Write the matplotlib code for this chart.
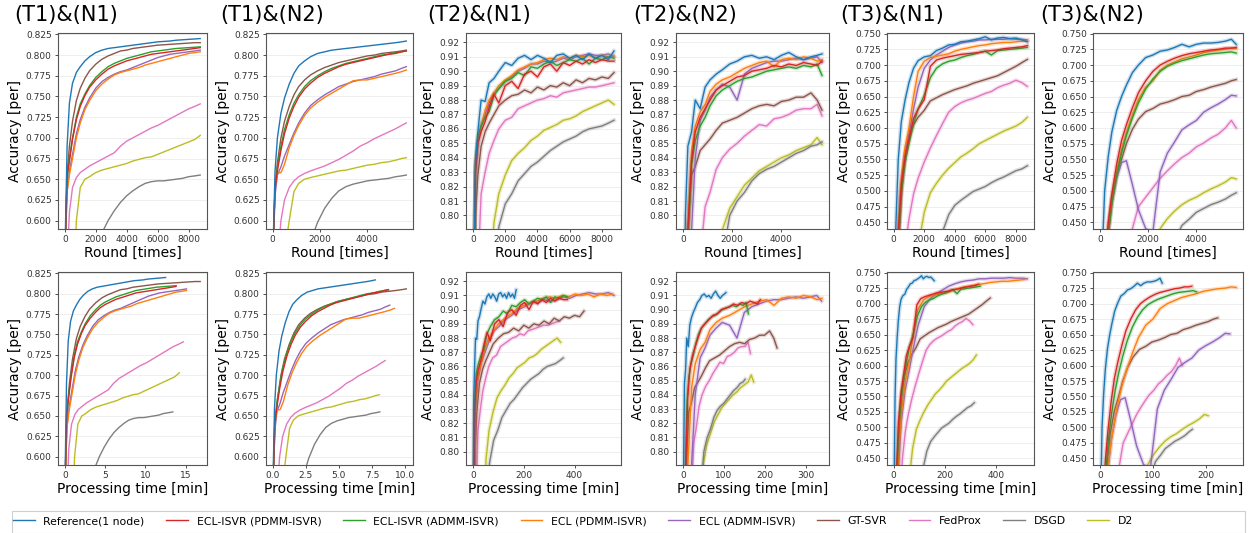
import numpy as np
import matplotlib
matplotlib.use('Agg')
import matplotlib.pyplot as plt
from matplotlib.ticker import MultipleLocator
from matplotlib.patches import Rectangle
from matplotlib.lines import Line2D

W, H = 1251, 533

methods = ['Reference(1 node)', 'ECL-ISVR (PDMM-ISVR)', 'ECL-ISVR (ADMM-ISVR)',
           'ECL (PDMM-ISVR)', 'ECL (ADMM-ISVR)', 'GT-SVR', 'FedProx', 'DSGD', 'D2']
colors = ['tab:blue', 'tab:red', 'tab:green', 'tab:orange', 'tab:purple',
          'tab:brown', 'tab:pink', 'tab:gray', 'tab:olive']

rounds_n1 = [0, 150, 300, 500, 750, 1000, 1300, 1600, 2000, 2400, 2800, 3200, 3600,
             4000, 4400, 4800, 5200, 5600, 6000, 6400, 6800, 7200, 7600, 8000, 8400, 8750]
rounds_n2 = [0, 100, 200, 350, 500, 700, 900, 1100, 1350, 1600, 1900, 2200, 2500,
             2800, 3100, 3400, 3700, 4000, 4300, 4600, 4900, 5200, 5450, 5650]

# accuracy per method (same order as methods)
acc_t1_n1 = [
    [0.55, 0.69, 0.742, 0.766, 0.779, 0.786, 0.793, 0.798, 0.803, 0.806, 0.808, 0.809, 0.810, 0.811, 0.812, 0.813, 0.814, 0.815, 0.816, 0.8165, 0.817, 0.818, 0.8185, 0.819, 0.8195, 0.820],
    [0.55, 0.655, 0.672, 0.698, 0.722, 0.738, 0.751, 0.761, 0.770, 0.777, 0.783, 0.787, 0.790, 0.793, 0.795, 0.797, 0.799, 0.801, 0.802, 0.803, 0.804, 0.805, 0.806, 0.807, 0.808, 0.809],
    [0.55, 0.65, 0.675, 0.70, 0.725, 0.741, 0.753, 0.763, 0.773, 0.780, 0.786, 0.790, 0.793, 0.796, 0.798, 0.800, 0.802, 0.804, 0.805, 0.806, 0.807, 0.808, 0.8085, 0.809, 0.8095, 0.810],
    [0.55, 0.635, 0.655, 0.675, 0.70, 0.718, 0.734, 0.745, 0.757, 0.765, 0.771, 0.776, 0.779, 0.781, 0.783, 0.785, 0.788, 0.790, 0.792, 0.794, 0.796, 0.798, 0.800, 0.802, 0.803, 0.804],
    [0.55, 0.635, 0.66, 0.68, 0.705, 0.722, 0.737, 0.748, 0.760, 0.768, 0.773, 0.777, 0.780, 0.782, 0.785, 0.788, 0.791, 0.794, 0.797, 0.799, 0.801, 0.802, 0.803, 0.804, 0.805, 0.806],
    [0.55, 0.655, 0.69, 0.72, 0.745, 0.760, 0.772, 0.781, 0.789, 0.795, 0.799, 0.802, 0.805, 0.806, 0.808, 0.809, 0.810, 0.811, 0.812, 0.8125, 0.813, 0.8135, 0.814, 0.8145, 0.815, 0.815],
    [0.45, 0.55, 0.61, 0.640, 0.652, 0.658, 0.662, 0.666, 0.670, 0.674, 0.678, 0.682, 0.690, 0.696, 0.700, 0.704, 0.708, 0.712, 0.715, 0.719, 0.723, 0.727, 0.731, 0.735, 0.738, 0.741],
    [0.30, 0.32, 0.34, 0.37, 0.40, 0.43, 0.46, 0.50, 0.53, 0.585, 0.600, 0.612, 0.622, 0.630, 0.636, 0.641, 0.645, 0.647, 0.648, 0.648, 0.649, 0.650, 0.651, 0.653, 0.654, 0.655],
    [0.40, 0.42, 0.45, 0.50, 0.60, 0.640, 0.650, 0.653, 0.658, 0.661, 0.663, 0.665, 0.667, 0.669, 0.672, 0.674, 0.676, 0.677, 0.680, 0.683, 0.686, 0.689, 0.692, 0.695, 0.698, 0.703],
]
acc_t1_n2 = [
    [0.55, 0.66, 0.70, 0.73, 0.748, 0.765, 0.778, 0.787, 0.793, 0.798, 0.802, 0.804, 0.806, 0.807, 0.808, 0.809, 0.810, 0.811, 0.812, 0.813, 0.814, 0.815, 0.816, 0.817],
    [0.55, 0.64, 0.66, 0.685, 0.705, 0.724, 0.738, 0.749, 0.759, 0.766, 0.773, 0.778, 0.782, 0.786, 0.789, 0.791, 0.793, 0.795, 0.797, 0.799, 0.801, 0.802, 0.804, 0.805],
    [0.55, 0.64, 0.665, 0.69, 0.71, 0.728, 0.742, 0.752, 0.762, 0.769, 0.775, 0.780, 0.784, 0.787, 0.790, 0.792, 0.794, 0.796, 0.798, 0.800, 0.801, 0.803, 0.804, 0.805],
    [0.55, 0.64, 0.657, 0.658, 0.668, 0.688, 0.703, 0.715, 0.727, 0.736, 0.743, 0.749, 0.754, 0.759, 0.764, 0.769, 0.770, 0.770, 0.772, 0.774, 0.776, 0.778, 0.780, 0.782],
    [0.55, 0.63, 0.655, 0.665, 0.678, 0.692, 0.706, 0.718, 0.730, 0.739, 0.746, 0.752, 0.757, 0.762, 0.765, 0.768, 0.770, 0.772, 0.774, 0.777, 0.779, 0.781, 0.784, 0.786],
    [0.55, 0.64, 0.67, 0.70, 0.72, 0.738, 0.752, 0.762, 0.770, 0.776, 0.781, 0.785, 0.788, 0.791, 0.793, 0.795, 0.797, 0.799, 0.800, 0.802, 0.803, 0.804, 0.805, 0.806],
    [0.45, 0.50, 0.55, 0.60, 0.625, 0.640, 0.648, 0.653, 0.657, 0.660, 0.663, 0.666, 0.670, 0.674, 0.679, 0.684, 0.690, 0.694, 0.699, 0.703, 0.707, 0.711, 0.715, 0.718],
    [0.30, 0.32, 0.34, 0.37, 0.40, 0.44, 0.48, 0.51, 0.55, 0.575, 0.598, 0.615, 0.627, 0.636, 0.641, 0.644, 0.646, 0.648, 0.649, 0.650, 0.651, 0.653, 0.654, 0.655],
    [0.40, 0.45, 0.48, 0.52, 0.56, 0.60, 0.635, 0.645, 0.650, 0.652, 0.654, 0.656, 0.658, 0.660, 0.661, 0.663, 0.665, 0.667, 0.668, 0.670, 0.671, 0.673, 0.675, 0.676],
]
acc_t2_n1 = [
    [0.70, 0.838, 0.858, 0.880, 0.879, 0.892, 0.895, 0.900, 0.906, 0.904, 0.909, 0.911, 0.908, 0.911, 0.909, 0.906, 0.911, 0.912, 0.909, 0.911, 0.908, 0.912, 0.909, 0.911, 0.908, 0.914],
    [0.70, 0.83, 0.850, 0.858, 0.865, 0.875, 0.884, 0.878, 0.890, 0.893, 0.888, 0.898, 0.900, 0.896, 0.903, 0.905, 0.900, 0.906, 0.904, 0.907, 0.905, 0.908, 0.906, 0.908, 0.907, 0.907],
    [0.70, 0.835, 0.855, 0.862, 0.868, 0.872, 0.883, 0.888, 0.893, 0.895, 0.899, 0.897, 0.903, 0.902, 0.905, 0.907, 0.904, 0.906, 0.908, 0.907, 0.909, 0.905, 0.909, 0.908, 0.910, 0.909],
    [0.70, 0.835, 0.852, 0.862, 0.873, 0.880, 0.885, 0.890, 0.894, 0.897, 0.901, 0.903, 0.905, 0.906, 0.908, 0.909, 0.908, 0.910, 0.909, 0.911, 0.910, 0.911, 0.909, 0.911, 0.910, 0.911],
    [0.70, 0.83, 0.85, 0.862, 0.870, 0.878, 0.885, 0.888, 0.893, 0.896, 0.900, 0.902, 0.905, 0.905, 0.907, 0.906, 0.907, 0.909, 0.908, 0.910, 0.911, 0.912, 0.911, 0.911, 0.912, 0.910],
    [0.70, 0.80, 0.828, 0.848, 0.858, 0.864, 0.870, 0.876, 0.880, 0.883, 0.884, 0.887, 0.885, 0.889, 0.887, 0.890, 0.889, 0.892, 0.890, 0.894, 0.892, 0.895, 0.894, 0.896, 0.895, 0.899],
    [0.60, 0.70, 0.76, 0.815, 0.830, 0.843, 0.852, 0.860, 0.866, 0.868, 0.874, 0.876, 0.878, 0.880, 0.881, 0.883, 0.882, 0.885, 0.886, 0.887, 0.888, 0.889, 0.889, 0.890, 0.891, 0.892],
    [0.45, 0.50, 0.55, 0.60, 0.65, 0.70, 0.75, 0.792, 0.808, 0.815, 0.824, 0.829, 0.834, 0.837, 0.841, 0.845, 0.848, 0.851, 0.853, 0.855, 0.858, 0.860, 0.861, 0.862, 0.864, 0.866],
    [0.50, 0.55, 0.60, 0.65, 0.70, 0.75, 0.795, 0.815, 0.828, 0.838, 0.843, 0.847, 0.852, 0.855, 0.859, 0.861, 0.863, 0.866, 0.867, 0.869, 0.872, 0.874, 0.876, 0.878, 0.880, 0.877],
]
acc_t2_n2 = [
    [0.70, 0.80, 0.848, 0.858, 0.880, 0.874, 0.889, 0.894, 0.898, 0.901, 0.905, 0.907, 0.910, 0.911, 0.909, 0.910, 0.908, 0.911, 0.913, 0.910, 0.908, 0.910, 0.911, 0.912],
    [0.65, 0.72, 0.79, 0.838, 0.858, 0.868, 0.874, 0.880, 0.887, 0.890, 0.893, 0.896, 0.897, 0.900, 0.901, 0.902, 0.904, 0.903, 0.905, 0.904, 0.906, 0.905, 0.904, 0.907],
    [0.65, 0.70, 0.78, 0.835, 0.852, 0.862, 0.868, 0.876, 0.883, 0.887, 0.890, 0.893, 0.895, 0.896, 0.898, 0.900, 0.901, 0.902, 0.903, 0.902, 0.904, 0.903, 0.905, 0.897],
    [0.65, 0.72, 0.79, 0.845, 0.862, 0.872, 0.877, 0.886, 0.891, 0.894, 0.896, 0.899, 0.902, 0.904, 0.906, 0.907, 0.903, 0.908, 0.909, 0.908, 0.910, 0.909, 0.907, 0.908],
    [0.60, 0.65, 0.70, 0.79, 0.840, 0.866, 0.873, 0.882, 0.887, 0.891, 0.889, 0.880, 0.898, 0.902, 0.904, 0.906, 0.907, 0.907, 0.908, 0.909, 0.908, 0.909, 0.910, 0.906],
    [0.60, 0.70, 0.79, 0.828, 0.834, 0.845, 0.849, 0.853, 0.859, 0.864, 0.866, 0.868, 0.871, 0.874, 0.876, 0.877, 0.876, 0.879, 0.880, 0.882, 0.882, 0.885, 0.880, 0.873],
    [0.50, 0.55, 0.60, 0.65, 0.70, 0.77, 0.806, 0.816, 0.832, 0.840, 0.846, 0.850, 0.855, 0.859, 0.863, 0.862, 0.867, 0.868, 0.870, 0.873, 0.874, 0.874, 0.877, 0.869],
    [0.30, 0.33, 0.36, 0.40, 0.45, 0.50, 0.56, 0.64, 0.72, 0.77, 0.800, 0.810, 0.816, 0.824, 0.829, 0.832, 0.834, 0.837, 0.840, 0.843, 0.845, 0.848, 0.849, 0.851],
    [0.40, 0.45, 0.50, 0.55, 0.60, 0.64, 0.68, 0.72, 0.76, 0.79, 0.805, 0.813, 0.821, 0.826, 0.831, 0.834, 0.837, 0.840, 0.842, 0.845, 0.847, 0.849, 0.854, 0.849],
]
acc_t3_n1 = [
    [0.35, 0.45, 0.55, 0.61, 0.645, 0.672, 0.695, 0.707, 0.713, 0.715, 0.723, 0.727, 0.732, 0.733, 0.737, 0.738, 0.740, 0.742, 0.745, 0.740, 0.743, 0.744, 0.742, 0.743, 0.740, 0.737],
    [0.30, 0.35, 0.43, 0.51, 0.555, 0.582, 0.615, 0.630, 0.645, 0.698, 0.708, 0.711, 0.713, 0.715, 0.717, 0.718, 0.719, 0.720, 0.722, 0.723, 0.724, 0.726, 0.727, 0.728, 0.729, 0.731],
    [0.30, 0.34, 0.42, 0.50, 0.545, 0.575, 0.607, 0.630, 0.652, 0.680, 0.695, 0.702, 0.706, 0.708, 0.712, 0.715, 0.717, 0.720, 0.722, 0.716, 0.723, 0.724, 0.725, 0.726, 0.727, 0.728],
    [0.30, 0.35, 0.44, 0.52, 0.57, 0.600, 0.650, 0.690, 0.706, 0.712, 0.714, 0.716, 0.718, 0.722, 0.725, 0.727, 0.729, 0.731, 0.732, 0.734, 0.735, 0.736, 0.736, 0.737, 0.738, 0.739],
    [0.30, 0.35, 0.43, 0.51, 0.56, 0.590, 0.630, 0.665, 0.695, 0.708, 0.716, 0.722, 0.728, 0.732, 0.735, 0.737, 0.738, 0.740, 0.740, 0.741, 0.741, 0.741, 0.742, 0.741, 0.741, 0.740],
    [0.30, 0.34, 0.40, 0.49, 0.56, 0.585, 0.605, 0.617, 0.628, 0.643, 0.648, 0.653, 0.657, 0.661, 0.664, 0.667, 0.671, 0.674, 0.677, 0.680, 0.683, 0.688, 0.693, 0.698, 0.704, 0.709],
    [0.20, 0.25, 0.30, 0.36, 0.41, 0.455, 0.495, 0.520, 0.546, 0.568, 0.588, 0.607, 0.625, 0.634, 0.640, 0.644, 0.647, 0.651, 0.655, 0.658, 0.664, 0.668, 0.671, 0.676, 0.672, 0.666],
    [0.10, 0.12, 0.14, 0.16, 0.19, 0.22, 0.25, 0.28, 0.32, 0.36, 0.40, 0.435, 0.462, 0.477, 0.485, 0.492, 0.499, 0.503, 0.507, 0.513, 0.518, 0.522, 0.527, 0.532, 0.535, 0.540],
    [0.10, 0.13, 0.16, 0.20, 0.25, 0.30, 0.35, 0.41, 0.466, 0.497, 0.512, 0.525, 0.536, 0.545, 0.554, 0.560, 0.567, 0.575, 0.580, 0.585, 0.590, 0.595, 0.599, 0.603, 0.609, 0.617],
]
acc_t3_n2 = [
    [0.35, 0.40, 0.50, 0.555, 0.594, 0.628, 0.650, 0.668, 0.688, 0.700, 0.712, 0.716, 0.722, 0.724, 0.728, 0.733, 0.729, 0.733, 0.735, 0.735, 0.736, 0.738, 0.741, 0.733],
    [0.30, 0.34, 0.38, 0.45, 0.495, 0.543, 0.580, 0.605, 0.632, 0.656, 0.675, 0.690, 0.700, 0.706, 0.711, 0.715, 0.718, 0.720, 0.722, 0.724, 0.725, 0.727, 0.727, 0.728],
    [0.30, 0.33, 0.37, 0.43, 0.48, 0.525, 0.56, 0.588, 0.616, 0.640, 0.662, 0.678, 0.690, 0.698, 0.703, 0.707, 0.710, 0.713, 0.716, 0.718, 0.719, 0.720, 0.721, 0.719],
    [0.30, 0.33, 0.37, 0.44, 0.485, 0.530, 0.565, 0.592, 0.620, 0.645, 0.665, 0.675, 0.692, 0.700, 0.705, 0.710, 0.713, 0.716, 0.720, 0.722, 0.724, 0.725, 0.727, 0.726],
    [0.30, 0.33, 0.37, 0.43, 0.48, 0.520, 0.545, 0.548, 0.510, 0.470, 0.440, 0.435, 0.530, 0.560, 0.578, 0.597, 0.605, 0.612, 0.625, 0.632, 0.638, 0.645, 0.652, 0.651],
    [0.30, 0.33, 0.37, 0.44, 0.49, 0.527, 0.550, 0.575, 0.598, 0.614, 0.626, 0.631, 0.638, 0.641, 0.645, 0.650, 0.652, 0.658, 0.661, 0.665, 0.668, 0.671, 0.675, 0.677],
    [0.20, 0.22, 0.24, 0.27, 0.30, 0.33, 0.36, 0.40, 0.440, 0.475, 0.490, 0.505, 0.520, 0.532, 0.543, 0.553, 0.560, 0.570, 0.576, 0.584, 0.590, 0.600, 0.612, 0.600],
    [0.10, 0.12, 0.14, 0.16, 0.18, 0.21, 0.24, 0.27, 0.30, 0.33, 0.36, 0.38, 0.40, 0.41, 0.42, 0.445, 0.455, 0.466, 0.472, 0.478, 0.482, 0.487, 0.493, 0.497],
    [0.10, 0.11, 0.12, 0.14, 0.16, 0.19, 0.22, 0.25, 0.28, 0.31, 0.36, 0.41, 0.44, 0.456, 0.468, 0.478, 0.485, 0.490, 0.497, 0.503, 0.508, 0.514, 0.521, 0.519],
]

# total processing time [min] of each method's run
time_t1_n1 = [12.5, 13.8, 13.8, 15.1, 15.1, 16.8, 14.7, 13.4, 14.2]
time_t1_n2 = [7.75, 8.75, 8.75, 9.2, 8.85, 10.1, 8.5, 8.1, 8.05]
time_t2_n1 = [170, 371, 371, 549, 555, 437, 338, 355, 345]
time_t2_n2 = [105, 189, 160, 340, 339, 230, 165, 152, 173]
time_t3_n1 = [158, 330, 338, 512, 522, 377, 309, 315, 323]
time_t3_n2 = [118, 174, 183, 258, 246, 223, 156, 175, 205]

titles = ['(T1)&(N1)', '(T1)&(N2)', '(T2)&(N1)', '(T2)&(N2)', '(T3)&(N1)', '(T3)&(N2)']
title_x = [14, 220, 427, 633, 840, 1040]
col_left = [58, 266, 466, 676, 887, 1093]
col_right = [207, 413, 621, 829, 1034, 1243]

panels = [
    (rounds_n1, acc_t1_n1, time_t1_n1, (0.5898, 0.8267), 0.025, 5, False),
    (rounds_n2, acc_t1_n2, time_t1_n2, (0.5898, 0.8267), 0.025, 2.5, False),
    (rounds_n1, acc_t2_n1, time_t2_n1, (0.7906, 0.9265), 0.01, 200, True),
    (rounds_n2, acc_t2_n2, time_t2_n2, (0.7906, 0.9265), 0.01, 100, True),
    (rounds_n1, acc_t3_n1, time_t3_n1, (0.4394, 0.751), 0.025, 200, True),
    (rounds_n2, acc_t3_n2, time_t3_n2, (0.4394, 0.751), 0.025, 100, True),
]


def style_axis(ax, ylim, ystep, xstep, xlabel):
    ax.set_ylim(*ylim)
    ax.yaxis.set_major_locator(MultipleLocator(ystep))
    ax.xaxis.set_major_locator(MultipleLocator(xstep))
    ax.grid(axis='y', color='#ececec', lw=0.6)
    ax.set_axisbelow(True)
    for s in ax.spines.values():
        s.set_color('#555555')
        s.set_linewidth(0.8)
    ax.tick_params(labelsize=6.5, length=2.5, width=0.6, colors='#333333', pad=2)
    ax.set_xlabel(xlabel, fontsize=10, labelpad=1)
    ax.set_ylabel('Accuracy [per]', fontsize=10, labelpad=3)


def draw_lines(ax, xs_list, accs, halo):
    for i in reversed(range(len(methods))):
        if halo:
            ax.plot(xs_list[i], accs[i], color=colors[i], lw=3, alpha=0.22)
        ax.plot(xs_list[i], accs[i], color=colors[i], lw=1.0)


fig = plt.figure(figsize=(W / 100, H / 100), dpi=100)

for c, (rounds, accs, tends, ylim, ystep, tstep, halo) in enumerate(panels):
    l = col_left[c] / W
    w = (col_right[c] - col_left[c]) / W
    ax_r = fig.add_axes([l, 1 - 229 / H, w, (229 - 33) / H])
    ax_t = fig.add_axes([l, 1 - 465 / H, w, (465 - 272) / H])

    r = np.array(rounds, dtype=float)
    draw_lines(ax_r, [r] * len(methods), accs, halo)
    style_axis(ax_r, ylim, ystep, 2000, 'Round [times]')

    t_list = [r / r[-1] * te for te in tends]
    draw_lines(ax_t, t_list, accs, halo)
    style_axis(ax_t, ylim, ystep, tstep, 'Processing time [min]')

    fig.text(title_x[c] / W, 1 - 15 / H, titles[c], fontsize=15, va='center', ha='left')

handles = [Line2D([], [], color=col, lw=1.0) for col in colors]
fig.legend(handles, methods, loc='center left', bbox_to_anchor=(13 / W, 1 - 521 / H),
           ncol=9, frameon=False, fontsize=7.8, borderpad=0, handlelength=2.0,
           handletextpad=0.8, columnspacing=2.0, borderaxespad=0)
fig.add_artist(Rectangle((12 / W, 0.5 / H), 1233 / W, 22 / H, transform=fig.transFigure,
                         fill=False, edgecolor='#cfcfcf', lw=0.8))

fig.savefig('out.png', dpi=100)
